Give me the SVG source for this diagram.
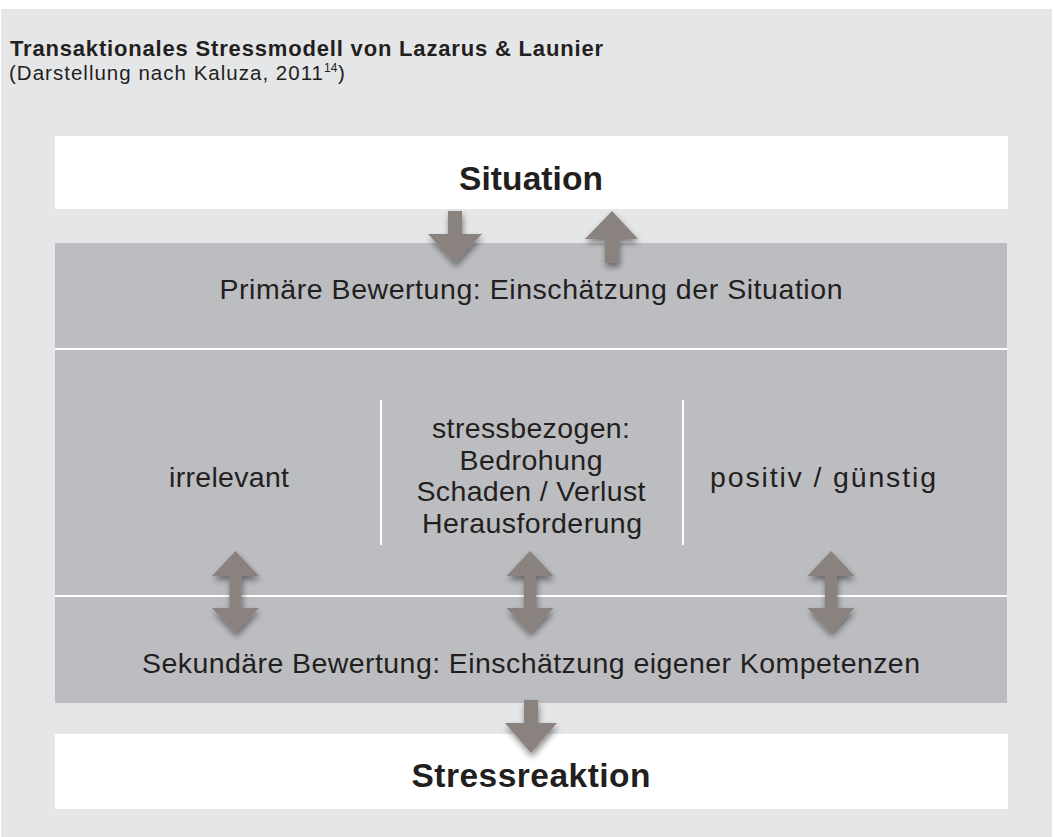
<svg xmlns="http://www.w3.org/2000/svg" width="1053" height="837" viewBox="0 0 1053 837">
<style>
.t{font-family:"Liberation Sans",Arial,sans-serif;fill:#231f20}
.b{font-weight:bold}
.body{font-size:28.5px;text-anchor:middle}
.arrow{fill:#8a827f;filter:url(#sh)}
.div{stroke:#ffffff;stroke-width:2}
</style>
<defs>
<filter id="sh" x="-50%" y="-50%" width="200%" height="200%">
<feDropShadow dx="1" dy="4" stdDeviation="3" flood-color="#000" flood-opacity="0.45"/>
</filter>
</defs>
<rect x="1" y="9" width="1051" height="828" fill="#e5e6e8"/>
<g id="title">
<text class="t b" x="10" y="56" font-size="22" textLength="593" lengthAdjust="spacing">Transaktionales Stressmodell von Lazarus &amp; Launier</text>
<text class="t" x="9" y="80" font-size="20.5" textLength="314" lengthAdjust="spacing">(Darstellung nach Kaluza, 2011</text>
<text class="t" x="324" y="72" font-size="12">14</text>
<text class="t" x="338" y="80" font-size="20.5">)</text>
</g>
<g id="situation">
<rect x="55" y="136" width="953" height="73" fill="#ffffff"/>
<text class="t b" x="531" y="190" font-size="33.5" text-anchor="middle" textLength="144" lengthAdjust="spacing">Situation</text>
</g>
<g id="bands">
<rect x="55" y="243" width="952" height="460" fill="#bcbdc1"/>
<line class="div" x1="55" y1="349" x2="1007" y2="349"/>
<line class="div" x1="55" y1="596" x2="1007" y2="596"/>
</g>
<g id="primaere">
<text class="t body" x="531" y="299" textLength="623" lengthAdjust="spacing">Primäre Bewertung: Einschätzung der Situation</text>
</g>
<g id="irrelevant">
<text class="t body" x="229" y="487" textLength="120" lengthAdjust="spacing">irrelevant</text>
</g>
<g id="stressbezogen">
<line class="div" x1="381" y1="400" x2="381" y2="545"/>
<line class="div" x1="683" y1="400" x2="683" y2="545"/>
<text class="t body" x="531" y="438" textLength="198" lengthAdjust="spacing">stressbezogen:</text>
<text class="t body" x="531" y="470" textLength="143" lengthAdjust="spacing">Bedrohung</text>
<text class="t body" x="531" y="501" textLength="229" lengthAdjust="spacing">Schaden / Verlust</text>
<text class="t body" x="532" y="533" textLength="220" lengthAdjust="spacing">Herausforderung</text>
</g>
<g id="positiv">
<text class="t body" x="823" y="487" textLength="226" lengthAdjust="spacing">positiv / günstig</text>
</g>
<g id="sekundaere">
<text class="t body" x="531" y="673" textLength="778" lengthAdjust="spacing">Sekundäre Bewertung: Einschätzung eigener Kompetenzen</text>
</g>
<g id="stressreaktion">
<rect x="55" y="734" width="953" height="75" fill="#ffffff"/>
<text class="t b" x="531" y="787" font-size="33.5" text-anchor="middle" textLength="239" lengthAdjust="spacing">Stressreaktion</text>
</g>
<g id="connectors">
<polygon class="arrow" points="448,211 462,211 462,234 482,234 455,263 428,234 448,234"/>
<polygon class="arrow" points="612,211 638,239 619,239 619,263 605,263 605,239 585,239"/>
<polygon class="arrow" points="235.5,551 259,576 241.5,576 241.5,608 259,608 235.5,633 212,608 229.5,608 229.5,576 212,576"/>
<polygon class="arrow" points="530,551 553.5,576 536,576 536,608 553.5,608 530,633 506.5,608 524,608 524,576 506.5,576"/>
<polygon class="arrow" points="831,551 854.5,576 837,576 837,608 854.5,608 831,633 807.5,608 825,608 825,576 807.5,576"/>
<polygon class="arrow" points="524,700 538,700 538,723 557,723 531,753 505,723 524,723"/>
</g>
</svg>
